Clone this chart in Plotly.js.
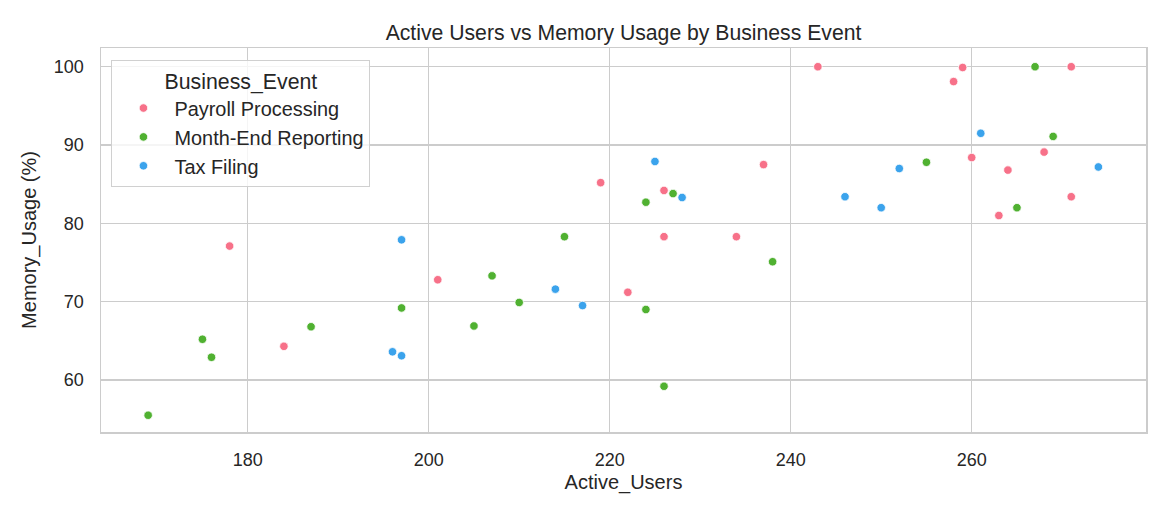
<!DOCTYPE html>
<html>
<head>
<meta charset="utf-8">
<script src="https://cdn.plot.ly/plotly-3.0.1.min.js"></script>
<style>html,body{margin:0;padding:0;background:#fff}#chart{width:1170px;height:520px}</style>
</head>
<body>
<div id="chart"></div>
<script>
const seriesNames = ["Payroll Processing", "Month-End Reporting", "Tax Filing"];
const seriesColors = ["#f77189", "#50b131", "#3ba3ec"];

const payrollUsers = [178, 184, 201, 219, 222, 226, 226, 234, 237, 243, 258, 259, 260, 263, 264, 268, 271, 271];
const payrollMemory = [77.1, 64.3, 72.8, 85.2, 71.2, 84.2, 78.3, 78.3, 87.5, 100, 98.1, 99.9, 88.4, 81.0, 86.8, 89.1, 100, 83.4];

const monthEndUsers = [169, 175, 176, 187, 197, 205, 207, 210, 215, 224, 224, 226, 227, 238, 255, 265, 267, 269];
const monthEndMemory = [55.5, 65.2, 62.9, 66.8, 69.2, 66.9, 73.3, 69.9, 78.3, 82.7, 69.0, 59.2, 83.8, 75.1, 87.8, 82.0, 100, 91.1];

const taxUsers = [196, 197, 197, 214, 217, 225, 228, 246, 250, 252, 261, 274];
const taxMemory = [63.6, 63.1, 77.9, 71.6, 69.5, 87.9, 83.3, 83.4, 82.0, 87.0, 91.5, 87.2];

const xTicks = [180, 200, 220, 240, 260];
const yTicks = [60, 70, 80, 90, 100];

const xs = [payrollUsers, monthEndUsers, taxUsers];
const ys = [payrollMemory, monthEndMemory, taxMemory];

const traces = seriesNames.map((n, i) => ({
  type: "scatter", mode: "markers", name: n,
  x: xs[i], y: ys[i],
  marker: {color: seriesColors[i], size: 8.5, line: {color: "#ffffff", width: 0.8}}
}));

const font = "Liberation Sans, Arial, sans-serif";
const layout = {
  width: 1170, height: 520,
  margin: {l: 101, r: 24, t: 48, b: 88},
  paper_bgcolor: "#ffffff", plot_bgcolor: "#ffffff",
  font: {family: font, color: "#262626", size: 18},
  title: {text: "Active Users vs Memory Usage by Business Event", xref: "paper", x: 0.5, xanchor: "center", y: 0.9365, yanchor: "middle", font: {size: 21.2, color: "#262626", family: font}},
  xaxis: {
    range: [163.79, 279.26], tickvals: xTicks, ticks: "",
    showgrid: true, gridcolor: "#cccccc", gridwidth: 1.3, zeroline: false,
    showline: true, linecolor: "#cccccc", linewidth: 1.5, mirror: true,
    tickfont: {size: 18, color: "#262626"}, ticklabelstandoff: 11,
    title: {text: "Active_Users", font: {size: 20, color: "#262626"}, standoff: 6}
  },
  yaxis: {
    range: [53.36, 102.39], tickvals: yTicks, ticks: "",
    showgrid: true, gridcolor: "#cccccc", gridwidth: 1.3, zeroline: false,
    showline: true, linecolor: "#cccccc", linewidth: 1.5, mirror: true,
    tickfont: {size: 18, color: "#262626"}, ticklabelstandoff: 12,
    title: {text: "Memory_Usage (%)", font: {size: 20, color: "#262626"}, standoff: 12}
  },
  legend: {
    x: 0.01, y: 0.969, xanchor: "left", yanchor: "top",
    bgcolor: "rgba(255,255,255,0.8)", bordercolor: "#d0d0d0", borderwidth: 1,
    font: {size: 19.9, color: "#262626"},
    title: {text: "Business_Event", side: "top center", font: {size: 21.3, color: "#262626"}},
    itemsizing: "trace", itemwidth: 52
  },
  showlegend: true
};
Plotly.newPlot("chart", traces, layout, {displayModeBar: false, staticPlot: true});
</script>
</body>
</html>
